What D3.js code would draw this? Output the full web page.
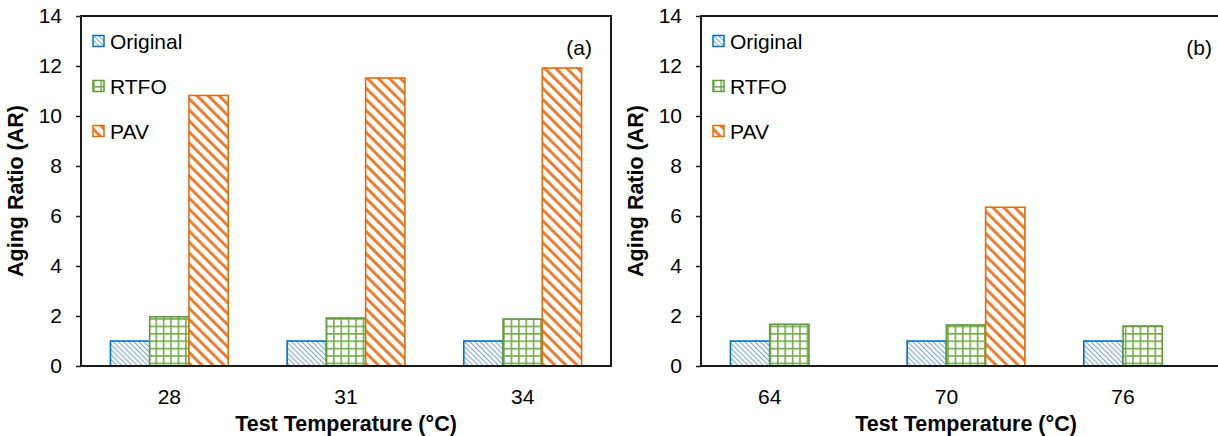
<!DOCTYPE html>
<html>
<head>
<meta charset="utf-8">
<script src="https://cdn.jsdelivr.net/npm/d3@7/dist/d3.min.js"></script>
<style>
  html, body { margin: 0; padding: 0; background: #fff; }
  svg { display: block; font-family: "Liberation Sans", Arial, sans-serif; }
</style>
</head>
<body>
<svg id="chart" width="1218" height="436"></svg>
<script>
// Aging ratio per aging state and test temperature
const seriesNames = ["Original", "RTFO", "PAV"];

const tempsA = ["28", "31", "34"];
const originalA = [1.0, 1.0, 1.0];
const rtfoA = [1.97, 1.92, 1.88];
const pavA = [10.82, 11.52, 11.92];

const tempsB = ["64", "70", "76"];
const originalB = [1.0, 1.0, 1.0];
const rtfoB = [1.67, 1.64, 1.60];
const pavB = [null, 6.35, null];

const yTicks = [0, 2, 4, 6, 8, 10, 12, 14];

// labelShift: category labels of panel (b) sit under the Original/RTFO pair
const panels = [
  { tag: "(a)", cats: tempsA, series: [originalA, rtfoA, pavA], left: 81, labelShift: 0 },
  { tag: "(b)", cats: tempsB, series: [originalB, rtfoB, pavB], left: 701, labelShift: -0.5 }
];

const svg = d3.select("#chart");
const plotTop = 16, plotBottom = 366, plotW = 530;
const FONT = "Liberation Sans, Arial, sans-serif";

// Fill patterns for each series
const defs = svg.append("defs");
const pOrig = defs.append("pattern").attr("id", "pat-orig")
  .attr("patternUnits", "userSpaceOnUse").attr("width", 3.6).attr("height", 3.6)
  .attr("patternTransform", "rotate(-45)");
pOrig.append("rect").attr("width", 3.6).attr("height", 3.6).attr("fill", "#fff");
pOrig.append("rect").attr("width", 1.1).attr("height", 3.6).attr("fill", "#7ea6dc");

const pRtfo = defs.append("pattern").attr("id", "pat-rtfo")
  .attr("patternUnits", "userSpaceOnUse").attr("width", 7.4).attr("height", 7.4);
pRtfo.append("rect").attr("width", 7.4).attr("height", 7.4).attr("fill", "#fff");
pRtfo.append("rect").attr("width", 1.6).attr("height", 7.4).attr("fill", "#70ad47");
pRtfo.append("rect").attr("width", 7.4).attr("height", 1.6).attr("fill", "#70ad47");

const pPav = defs.append("pattern").attr("id", "pat-pav")
  .attr("patternUnits", "userSpaceOnUse").attr("width", 7.8).attr("height", 7.8)
  .attr("patternTransform", "rotate(-45)");
pPav.append("rect").attr("width", 7.8).attr("height", 7.8).attr("fill", "#fff");
pPav.append("rect").attr("width", 3).attr("height", 7.8).attr("fill", "#ed7d31");

const fills = ["url(#pat-orig)", "url(#pat-rtfo)", "url(#pat-pav)"];
const strokes = ["#0070c0", "#5f9a3c", "#e36c0a"];

panels.forEach(p => {
  const g = svg.append("g");
  const x0 = d3.scaleBand().domain(p.cats).range([p.left, p.left + plotW]).padding(0);
  const y = d3.scaleLinear().domain([0, 14]).range([plotBottom, plotTop]);
  const barW = x0.bandwidth() / 4.5;
  const x1 = d3.scaleBand().domain(d3.range(3)).range([0, barW * 3]);

  // bars
  p.series.forEach((vals, si) => {
    g.append("g").selectAll("rect")
      .data(vals.map((v, i) => ({ v, c: p.cats[i] })).filter(d => d.v != null))
      .join("rect")
      .attr("x", d => x0(d.c) + x0.bandwidth() / 2 - barW * 1.5 + x1(si))
      .attr("y", d => y(d.v))
      .attr("width", barW)
      .attr("height", d => y(0) - y(d.v))
      .attr("fill", fills[si])
      .attr("stroke", strokes[si])
      .attr("stroke-width", 1.6);
  });

  // plot frame
  g.append("rect")
    .attr("x", p.left).attr("y", plotTop)
    .attr("width", plotW).attr("height", plotBottom - plotTop)
    .attr("fill", "none").attr("stroke", "#1a1a1a").attr("stroke-width", 2);

  // y axis
  const yAxis = d3.axisLeft(y).tickValues(yTicks).tickSize(5).tickPadding(14);
  const ya = g.append("g").attr("transform", `translate(${p.left},0)`).call(yAxis);
  ya.select(".domain").remove();
  ya.selectAll(".tick line").attr("stroke", "#1a1a1a").attr("stroke-width", 1.5);
  ya.selectAll(".tick text").attr("font-size", 21).attr("fill", "#000").attr("font-family", FONT);

  // x axis labels
  const xAxis = d3.axisBottom(x0).tickSize(0).tickPadding(23);
  const xa = g.append("g").attr("transform", `translate(0,${plotBottom})`).call(xAxis);
  xa.select(".domain").remove();
  xa.selectAll(".tick text").attr("font-size", 21).attr("fill", "#000").attr("font-family", FONT)
    .attr("dx", p.labelShift * barW);

  // axis titles
  g.append("text")
    .attr("x", p.left + plotW / 2).attr("y", 431)
    .attr("text-anchor", "middle").attr("font-size", 21.5).attr("font-weight", "bold")
    .text("Test Temperature (°C)");
  g.append("text")
    .attr("transform", `translate(${p.left - 58},${(plotTop + plotBottom) / 2}) rotate(-90)`)
    .attr("text-anchor", "middle").attr("font-size", 21.5).attr("font-weight", "bold")
    .text("Aging Ratio (AR)");

  // panel tag
  g.append("text")
    .attr("x", p.left + plotW - 19).attr("y", 55)
    .attr("text-anchor", "end").attr("font-size", 21)
    .text(p.tag);

  // legend
  const leg = g.append("g").selectAll("g").data(seriesNames).join("g")
    .attr("transform", (d, i) => `translate(${p.left + 12},${41 + i * 45})`);
  leg.append("rect")
    .attr("x", 0).attr("y", -5.5).attr("width", 11).attr("height", 11)
    .attr("fill", (d, i) => fills[i]).attr("stroke", (d, i) => strokes[i]).attr("stroke-width", 1.5);
  leg.append("text")
    .attr("x", 17).attr("y", 7.5).attr("font-size", 21)
    .text(d => d);
});
</script>
</body>
</html>
